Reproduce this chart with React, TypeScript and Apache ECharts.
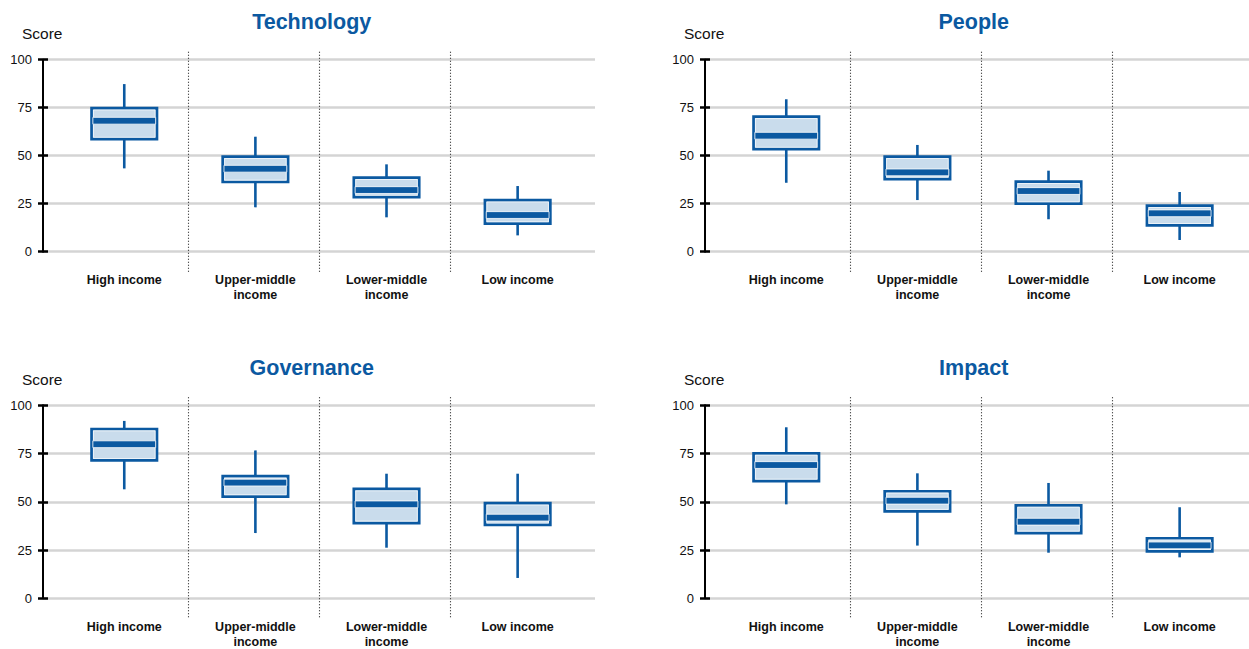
import React, { useEffect, useRef } from "react";
import * as echarts from "echarts";

const categories = ["High income", "Upper-middle\nincome", "Lower-middle\nincome", "Low income"];
const panelTitles = ["Technology", "People", "Governance", "Impact"];
const yTicks = [0, 25, 50, 75, 100];

// [min, Q1, median, Q3, max]
const technology = [
  [43.4, 58.6, 68.2, 74.8, 87.3],
  [23.1, 36.3, 43.2, 49.5, 59.9],
  [17.9, 28.4, 32.1, 38.6, 45.5],
  [8.5, 14.6, 19.1, 26.9, 34.2],
];
const people = [
  [35.9, 53.4, 60.4, 70.3, 79.4],
  [26.9, 37.8, 41.3, 49.5, 55.6],
  [16.9, 25.0, 31.6, 36.5, 42.2],
  [6.1, 13.7, 20.0, 24.0, 31.1],
];
const governance = [
  [56.4, 71.4, 79.8, 87.7, 91.9],
  [33.7, 52.6, 59.9, 63.2, 76.6],
  [26.1, 38.9, 48.6, 56.6, 64.5],
  [10.4, 37.9, 41.7, 49.2, 64.5],
];
const impact = [
  [48.6, 60.7, 69.0, 75.1, 88.6],
  [27.2, 45.0, 50.5, 55.4, 64.7],
  [23.5, 33.7, 39.6, 48.1, 59.7],
  [21.1, 24.2, 27.3, 31.0, 47.1],
];
const panelData = [technology, people, governance, impact];

const BLUE = "#0b59a1";
const FILL = "#c9dcec";
const FONT = "'Liberation Sans', Arial, Helvetica, sans-serif";

export default function App() {
  const ref = useRef<HTMLDivElement>(null);

  useEffect(() => {
    if (!ref.current) return;
    const chart = echarts.init(ref.current, null, { renderer: "svg" });

    const grids: any[] = [];
    const xAxes: any[] = [];
    const yAxes: any[] = [];
    const series: any[] = [];
    const graphics: any[] = [];

    panelData.forEach((data, p) => {
      const col = p % 2;
      const row = Math.floor(p / 2);
      const dx = col * 662;
      const top = row ? 405.3 : 59.7;
      const height = row ? 193 : 192;

      // Grid A: y axis + gridlines
      grids.push({ left: 43 + dx, top, width: col ? 560 : 552, height });
      // Grid B: categories + boxes
      grids.push({ left: 58.7 + dx, top, width: 524.5, height });
      const gA = 2 * p;
      const gB = 2 * p + 1;

      xAxes.push({ gridIndex: gA, type: "value", min: 0, max: 1, show: false });
      xAxes.push({
        gridIndex: gB,
        type: "category",
        data: categories,
        boundaryGap: true,
        axisLine: { show: false },
        axisTick: { show: false },
        splitLine: { show: false },
        axisLabel: {
          interval: 0,
          margin: 21,
          fontFamily: FONT,
          fontSize: 12.5,
          fontWeight: "bold",
          color: "#111",
          lineHeight: 15,
        },
      });

      yAxes.push({
        gridIndex: gA,
        type: "value",
        position: "left",
        min: yTicks[0],
        max: yTicks[yTicks.length - 1],
        interval: yTicks[1] - yTicks[0],
        axisLine: { show: true, lineStyle: { color: "#000", width: 2 } },
        axisTick: { show: true, inside: false, length: 5, lineStyle: { color: "#000", width: 2.5 } },
        axisLabel: { margin: 11, fontFamily: FONT, fontSize: 13, color: "#111" },
        splitLine: { show: true, lineStyle: { color: "#d4d4d4", width: 2.5 } },
      });
      yAxes.push({
        gridIndex: gA,
        type: "value",
        position: "left",
        min: yTicks[0],
        max: yTicks[yTicks.length - 1],
        interval: yTicks[1] - yTicks[0],
        axisLine: { show: false },
        axisTick: { show: true, inside: true, length: 5, lineStyle: { color: "#000", width: 2.5 } },
        axisLabel: { show: false },
        splitLine: { show: false },
      });
      yAxes.push({
        gridIndex: gB,
        type: "value",
        min: yTicks[0],
        max: yTicks[yTicks.length - 1],
        show: false,
      });

      series.push({
        type: "custom",
        xAxisIndex: 2 * p + 1,
        yAxisIndex: 3 * p + 2,
        clip: false,
        z: 5,
        encode: { x: 0, y: [1, 2, 3, 4, 5] },
        data: data.map((d, i) => [categories[i], ...d]),
        renderItem: (params: any, api: any) => {
          const i = api.value(0);
          const x = api.coord([i, api.value(1)])[0];
          const yMin = api.coord([i, api.value(1)])[1];
          const yQ1 = api.coord([i, api.value(2)])[1];
          const yMed = api.coord([i, api.value(3)])[1];
          const yQ3 = api.coord([i, api.value(4)])[1];
          const yMax = api.coord([i, api.value(5)])[1];
          const band = api.size([1, 0])[0];
          const bw = 65.4;
          const children: any[] = [];
          if (params.dataIndex < categories.length - 1) {
            const sx = Math.round(x + band / 2) - 1.5;
            const yTop = api.coord([i, 100])[1] - 8;
            const yBot = api.coord([i, 0])[1] + 20;
            children.push({
              type: "line",
              shape: { x1: sx, y1: yTop, x2: sx, y2: yBot },
              style: { stroke: "#1e1e1e", lineWidth: 1.1, lineDash: [1, 2] },
            });
          }
          children.push({
            type: "line",
            shape: { x1: x, y1: yMax, x2: x, y2: yMin },
            style: { stroke: BLUE, lineWidth: 2.6 },
          });
          children.push({
            type: "rect",
            shape: { x: x - bw / 2, y: yQ3, width: bw, height: yQ1 - yQ3 },
            style: { fill: FILL, stroke: BLUE, lineWidth: 2.7 },
          });
          children.push({
            type: "rect",
            shape: { x: x - bw / 2 + 1.9, y: yQ3 + 1.9, width: bw - 3.8, height: yQ1 - yQ3 - 3.8 },
            style: { fill: "none", stroke: "#ffffff", lineWidth: 0.8, opacity: 0.8 },
          });
          children.push({
            type: "rect",
            shape: { x: x - bw / 2 + 1.3, y: yMed - 3.4, width: bw - 2.6, height: 6.8 },
            style: { fill: BLUE, stroke: "#ffffff", lineWidth: 0.8 },
          });
          return { type: "group", children };
        },
      });

      graphics.push({
        type: "text",
        x: 311.7 + dx,
        y: row ? 367.5 : 21.5,
        style: {
          text: panelTitles[p],
          fill: BLUE,
          font: `bold 21.5px ${FONT}`,
          textAlign: "center",
          textVerticalAlign: "middle",
        },
      });
      graphics.push({
        type: "text",
        x: 22 + dx,
        y: row ? 379 : 33,
        style: {
          text: "Score",
          fill: "#111",
          font: `15.5px ${FONT}`,
          textAlign: "left",
          textVerticalAlign: "middle",
        },
      });
    });

    chart.setOption({
      animation: false,
      backgroundColor: "#ffffff",
      grid: grids,
      xAxis: xAxes,
      yAxis: yAxes,
      series,
      graphic: graphics,
    });

    return () => chart.dispose();
  }, []);

  return (
    <div
      ref={ref}
      style={{ position: "fixed", left: 0, top: 0, width: 1249, height: 649, background: "#fff" }}
    />
  );
}
